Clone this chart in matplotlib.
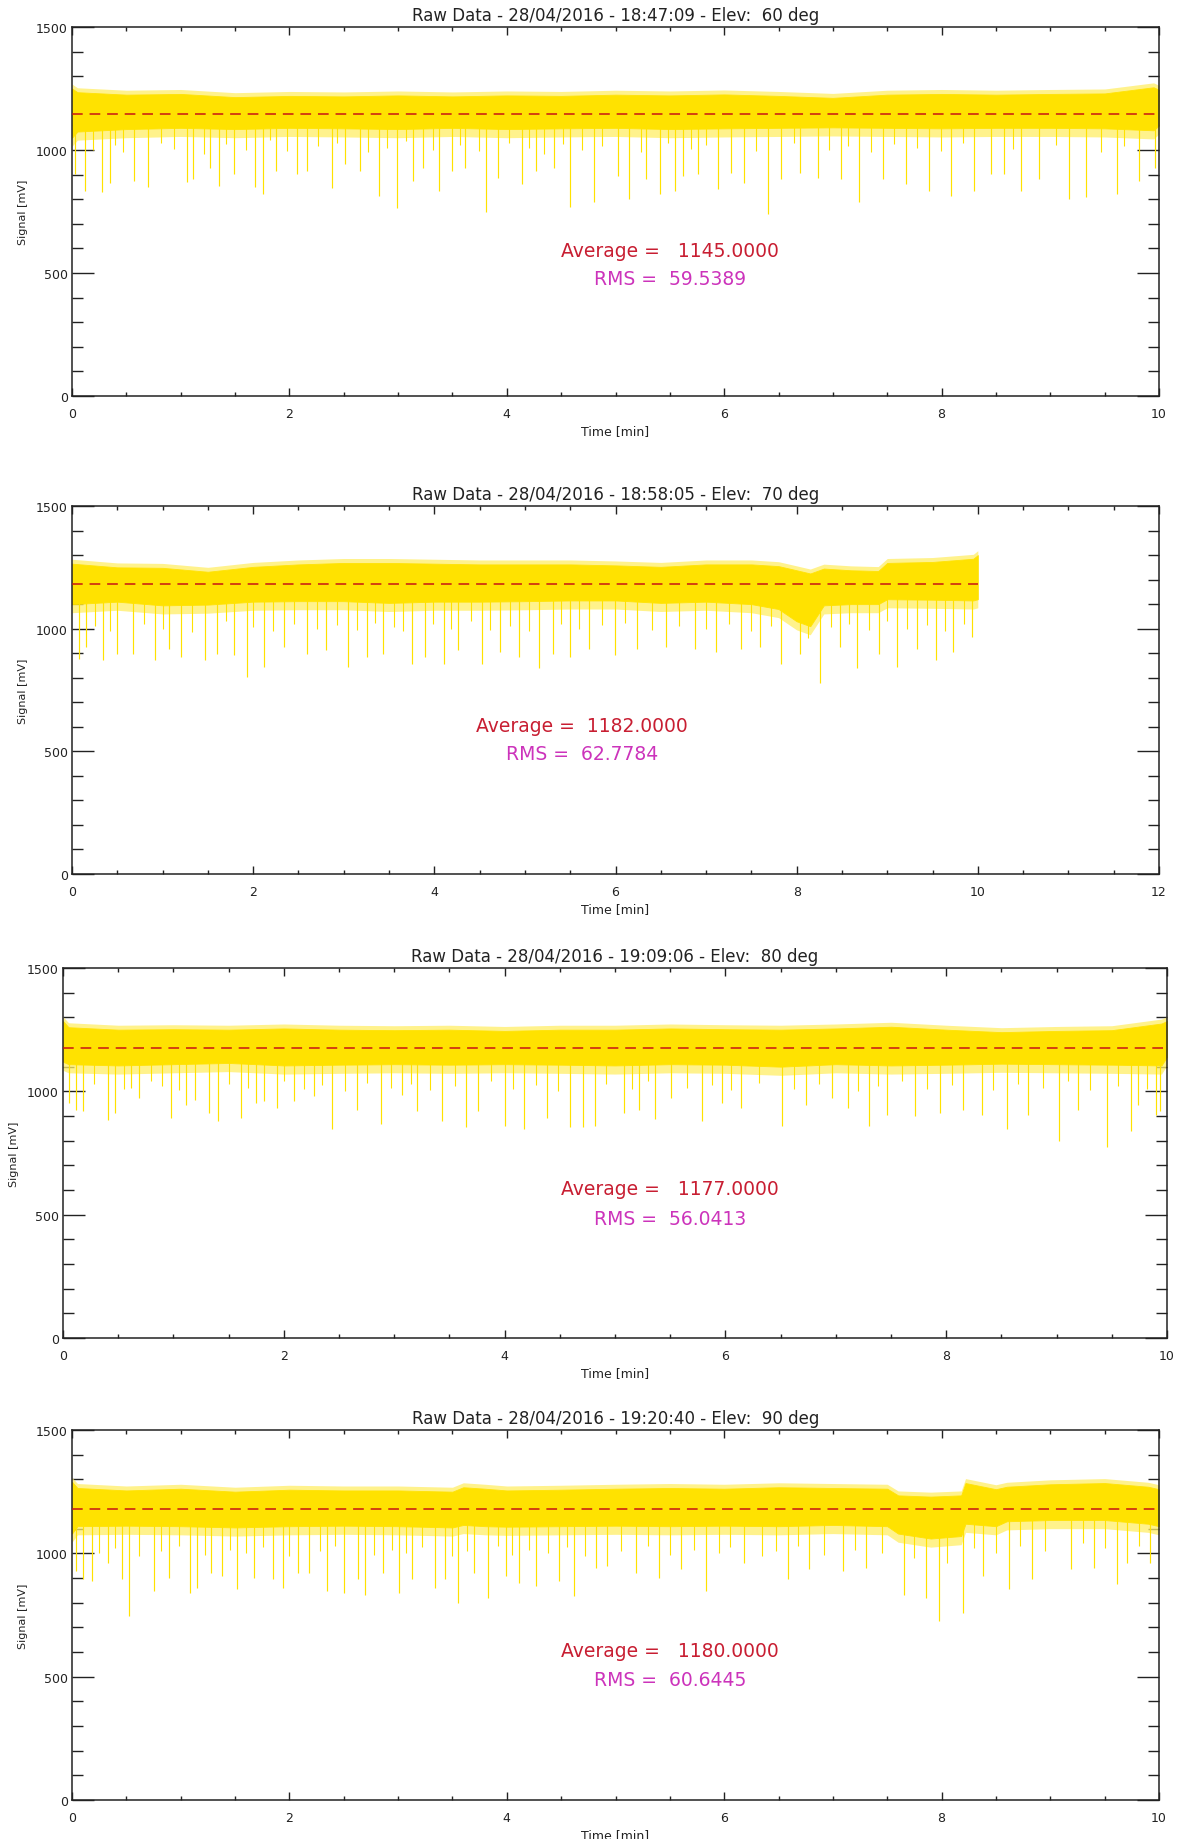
import matplotlib
matplotlib.use("Agg")
import matplotlib.pyplot as plt
from matplotlib.ticker import MultipleLocator
import numpy as np

plt.rcParams['font.family'] = ['DejaVu Sans']

# ---------------- data ----------------
TITLES = [
    "Raw Data - 28/04/2016 - 18:47:09 - Elev:  60 deg",
    "Raw Data - 28/04/2016 - 18:58:05 - Elev:  70 deg",
    "Raw Data - 28/04/2016 - 19:09:06 - Elev:  80 deg",
    "Raw Data - 28/04/2016 - 19:20:40 - Elev:  90 deg",
]
X_MAX = [10, 12, 10, 10]
DATA_END = [10, 10, 10, 10]
AVERAGES = [1145.0, 1182.0, 1177.0, 1180.0]
RMS_VALUES = [59.5389, 62.7784, 56.0413, 60.6445]
AVG_LABELS = ["Average =   1145.0000", "Average =  1182.0000",
              "Average =   1177.0000", "Average =   1180.0000"]
RMS_LABELS = ["RMS =  59.5389", "RMS =  62.7784", "RMS =  56.0413", "RMS =  60.6445"]
TEXT_X = [5.5, 5.63, 5.5, 5.5]
AVG_Y = [592, 607, 605, 605]
RMS_Y = [478, 492, 486, 490]

# envelope of the dense noise band (time [min], upper and lower edge [mV])
P1_ENV_T = [0, 0.05, 0.5, 1.0, 1.5, 2.0, 2.5, 3.0, 3.5, 4.0, 4.5, 5.0, 5.5, 6.0, 6.5, 7.0, 7.5, 8.0, 8.5, 9.0, 9.5, 9.95, 10.0]
P1_TOP = [1250, 1235, 1225, 1228, 1215, 1220, 1218, 1222, 1218, 1222, 1220, 1225, 1222, 1226, 1220, 1212, 1225, 1228, 1225, 1228, 1230, 1255, 1245]
P1_BOT = [1050, 1075, 1085, 1090, 1085, 1090, 1088, 1085, 1090, 1085, 1088, 1090, 1085, 1088, 1090, 1092, 1090, 1088, 1090, 1090, 1088, 1080, 1100]

P2_ENV_T = [0, 0.5, 1.0, 1.5, 2.0, 2.5, 3.0, 3.5, 4.0, 4.5, 5.0, 5.5, 6.0, 6.5, 7.0, 7.5, 7.8, 8.0, 8.15, 8.3, 8.6, 8.9, 9.0, 9.5, 9.95, 10.0]
P2_TOP = [1265, 1250, 1248, 1232, 1252, 1262, 1268, 1268, 1265, 1262, 1262, 1262, 1258, 1252, 1262, 1262, 1255, 1238, 1225, 1245, 1238, 1235, 1268, 1272, 1285, 1300]
P2_BOT = [1100, 1110, 1095, 1098, 1110, 1112, 1112, 1105, 1110, 1110, 1112, 1115, 1115, 1105, 1110, 1100, 1080, 1030, 1010, 1095, 1100, 1100, 1120, 1118, 1115, 1120]

P3_ENV_T = [0, 0.05, 0.5, 1.0, 1.5, 2.0, 2.5, 3.0, 3.5, 4.0, 4.5, 5.0, 5.5, 6.0, 6.5, 7.0, 7.5, 8.0, 8.5, 9.0, 9.5, 9.95, 10.0]
P3_TOP = [1285, 1260, 1250, 1252, 1250, 1255, 1250, 1248, 1250, 1245, 1250, 1250, 1255, 1252, 1250, 1255, 1262, 1250, 1240, 1245, 1248, 1275, 1285]
P3_BOT = [1120, 1110, 1105, 1110, 1115, 1105, 1108, 1110, 1108, 1110, 1108, 1105, 1110, 1108, 1100, 1110, 1105, 1108, 1112, 1110, 1108, 1105, 1140]

P4_ENV_T = [0, 0.05, 0.5, 1.0, 1.5, 2.0, 2.5, 3.0, 3.5, 3.6, 3.8, 4.0, 4.5, 5.0, 5.5, 6.0, 6.5, 7.0, 7.5, 7.6, 7.9, 8.18, 8.22, 8.5, 8.6, 9.0, 9.5, 9.9, 10.0]
P4_TOP = [1290, 1265, 1255, 1262, 1250, 1258, 1255, 1255, 1250, 1268, 1262, 1255, 1258, 1262, 1265, 1262, 1268, 1265, 1262, 1235, 1230, 1235, 1285, 1260, 1270, 1280, 1285, 1270, 1260]
P4_BOT = [1080, 1110, 1112, 1110, 1105, 1110, 1112, 1110, 1105, 1115, 1110, 1108, 1110, 1112, 1110, 1112, 1110, 1115, 1110, 1080, 1060, 1070, 1120, 1110, 1130, 1135, 1135, 1120, 1110]

# deep downward spikes (time [min], minimum [mV])
P1_SPIKE_T = [0.03, 0.12, 0.28, 0.35, 0.57, 0.70, 1.06, 1.11, 1.27, 1.35, 1.49, 1.68, 1.76, 1.88, 2.07, 2.16, 2.39, 2.51, 2.65, 2.82, 2.99, 3.14, 3.23, 3.38, 3.50, 3.62, 3.81, 3.92, 4.14, 4.27, 4.43, 4.58, 4.80,
              5.02, 5.12, 5.28, 5.41, 5.55, 5.62, 5.76, 5.94, 6.06, 6.18, 6.40, 6.52, 6.70, 6.86, 7.07, 7.24, 7.46, 7.67, 7.88, 8.09, 8.30, 8.45, 8.57, 8.73, 8.90, 9.17, 9.33, 9.61, 9.82, 9.96]
P1_SPIKE_V = [901, 834, 830, 867, 874, 850, 870, 881, 928, 854, 901, 850, 820, 915, 901, 915, 847, 942, 915, 814, 764, 874, 928, 834, 915, 928, 746, 888, 861, 915, 928, 767, 787,
              894, 800, 881, 820, 834, 894, 901, 840, 908, 867, 740, 881, 908, 888, 881, 787, 881, 861, 834, 814, 834, 901, 901, 834, 881, 800, 807, 820, 874, 928]

P2_SPIKE_T = [0.08, 0.16, 0.34, 0.50, 0.67, 0.92, 1.07, 1.20, 1.47, 1.60, 1.79, 1.93, 2.12, 2.34, 2.59, 2.80, 3.05, 3.26, 3.43, 3.75, 3.90, 4.11, 4.26, 4.53, 4.72, 4.93, 5.16, 5.31, 5.50, 5.71,
              5.99, 6.24, 6.56, 6.88, 7.11, 7.39, 7.60, 7.83, 8.04, 8.26, 8.48, 8.67, 8.91, 9.11, 9.33, 9.54, 9.73, 9.94]
P2_SPIKE_V = [878, 925, 874, 898, 898, 874, 919, 885, 871, 898, 892, 804, 844, 925, 898, 912, 844, 885, 898, 858, 885, 858, 912, 858, 905, 885, 838, 898, 885, 919,
              892, 919, 925, 919, 905, 919, 925, 858, 898, 777, 925, 838, 898, 844, 919, 871, 905, 966]

P3_SPIKE_T = [0.05, 0.12, 0.18, 0.41, 0.47, 0.62, 0.69, 0.98, 1.11, 1.20, 1.32, 1.40, 1.61, 1.75, 1.82, 1.94, 2.09, 2.27, 2.44, 2.66, 2.88, 3.07, 3.21, 3.43, 3.65, 3.76, 4.00, 4.18, 4.38, 4.59, 4.71, 4.82,
              5.08, 5.22, 5.36, 5.51, 5.79, 5.97, 6.14, 6.51, 6.73, 6.97, 7.11, 7.30, 7.46, 7.72, 7.94, 8.15, 8.32, 8.55, 8.74, 9.02, 9.19, 9.46, 9.67, 9.74, 9.90, 9.94]
P3_SPIKE_V = [953, 926, 920, 882, 913, 1013, 973, 893, 946, 966, 913, 880, 893, 953, 960, 933, 960, 980, 846, 926, 866, 986, 920, 880, 857, 920, 860, 846, 893, 856, 856, 860,
              913, 926, 886, 973, 880, 953, 933, 860, 946, 973, 933, 860, 906, 900, 913, 926, 906, 846, 906, 800, 926, 773, 840, 946, 906, 920]

P4_SPIKE_T = [0.04, 0.10, 0.18, 0.33, 0.46, 0.52, 0.75, 0.89, 1.09, 1.15, 1.28, 1.38, 1.52, 1.67, 1.85, 1.94, 2.08, 2.18, 2.35, 2.50, 2.63, 2.70, 2.86, 3.01, 3.13, 3.34, 3.43, 3.55, 3.70, 3.83, 3.99, 4.11, 4.27, 4.48, 4.62, 4.82,
              4.92, 5.19, 5.40, 5.60, 5.83, 6.18, 6.59, 6.78, 7.09, 7.30, 7.65, 7.86, 7.98, 8.20, 8.38, 8.62, 8.83, 9.19, 9.40, 9.61, 9.71, 9.92]
P4_SPIKE_V = [928, 894, 888, 962, 897, 745, 847, 901, 840, 860, 921, 908, 854, 901, 894, 860, 921, 921, 847, 840, 894, 833, 921, 840, 894, 860, 894, 799, 921, 820, 908, 881, 867, 888, 827, 942,
              948, 921, 901, 935, 847, 962, 894, 935, 928, 942, 833, 820, 725, 759, 908, 854, 894, 935, 942, 874, 962, 962]

# shallower spikes between the deep ones (time [min], minimum [mV])
P1_MID_T = [0.19, 0.40, 0.47, 0.82, 0.94, 1.21, 1.42, 1.60, 1.82, 1.98, 2.26, 2.44, 2.72, 2.90, 3.07, 3.32, 3.57, 3.74, 4.02, 4.20, 4.34, 4.52, 4.69, 4.88, 5.23, 5.48, 5.69, 5.83, 6.29, 6.64, 6.96, 7.14, 7.35, 7.56, 7.77, 7.99, 8.20, 8.66, 9.05, 9.47, 9.68]
P1_MID_V = [1000, 1020, 990, 1030, 1005, 985, 1025, 1000, 1040, 995, 1015, 1030, 990, 1010, 1035, 1000, 1020, 995, 1030, 1010, 985, 1025, 1000, 1015, 990, 1030, 1005, 1020, 995, 1030, 1000, 1015, 990, 1025, 1010, 995, 1030, 1005, 1020, 990, 1015]
P2_MID_T = [0.25, 0.42, 0.80, 1.00, 1.33, 1.70, 2.00, 2.22, 2.45, 2.70, 2.92, 3.15, 3.35, 3.55, 3.65, 3.98, 4.18, 4.40, 4.62, 4.83, 5.05, 5.40, 5.60, 5.85, 6.10, 6.40, 6.70, 7.00, 7.25, 7.50, 7.72, 8.12, 8.38, 8.58, 8.80, 9.00, 9.22, 9.44, 9.64, 9.85]
P2_MID_V = [1010, 990, 1020, 1000, 985, 1030, 1005, 990, 1020, 1000, 1015, 995, 1025, 1005, 990, 1020, 1000, 1030, 995, 1010, 990, 1020, 1000, 1015, 1025, 995, 1010, 1000, 1020, 990, 1010, 960, 1005, 1020, 995, 1030, 1000, 1015, 990, 1020]
P3_MID_T = [0.28, 0.55, 0.80, 0.90, 1.05, 1.50, 1.68, 2.00, 2.18, 2.35, 2.55, 2.75, 2.97, 3.15, 3.32, 3.55, 3.88, 4.08, 4.28, 4.48, 4.92, 5.15, 5.30, 5.65, 5.88, 6.05, 6.30, 6.62, 6.85, 7.20, 7.38, 7.60, 7.83, 8.05, 8.42, 8.65, 8.88, 9.10, 9.30, 9.56, 9.82]
P3_MID_V = [1030, 1010, 1040, 1020, 1005, 1030, 1015, 1040, 1010, 1025, 1000, 1035, 1015, 1030, 1005, 1020, 1040, 1010, 1025, 1000, 1030, 1010, 1040, 1015, 1025, 1005, 1035, 1010, 1030, 1000, 1020, 1040, 1010, 1025, 1005, 1030, 1015, 1040, 1005, 1020, 1010]
P4_MID_T = [0.25, 0.40, 0.62, 0.82, 0.98, 1.22, 1.45, 1.60, 1.76, 2.00, 2.28, 2.42, 2.78, 2.94, 3.07, 3.22, 3.50, 3.63, 3.92, 4.05, 4.20, 4.38, 4.55, 4.72, 5.05, 5.30, 5.50, 5.72, 5.95, 6.05, 6.35, 6.48, 6.68, 6.92, 7.20, 7.45, 7.75, 8.05, 8.30, 8.50, 8.72, 8.95, 9.30, 9.50, 9.82]
P4_MID_V = [1000, 1020, 990, 1010, 1030, 995, 1015, 1000, 1025, 990, 1010, 1030, 995, 1015, 1000, 1025, 990, 1010, 1030, 995, 1015, 1000, 1025, 990, 1010, 1030, 995, 1015, 1000, 1025, 990, 1010, 1030, 995, 1015, 1000, 980, 960, 1020, 1000, 1030, 1010, 1040, 1020, 1030]

ENV_T = [P1_ENV_T, P2_ENV_T, P3_ENV_T, P4_ENV_T]
ENV_TOP = [P1_TOP, P2_TOP, P3_TOP, P4_TOP]
ENV_BOT = [P1_BOT, P2_BOT, P3_BOT, P4_BOT]
SPIKE_T = [P1_SPIKE_T, P2_SPIKE_T, P3_SPIKE_T, P4_SPIKE_T]
SPIKE_V = [P1_SPIKE_V, P2_SPIKE_V, P3_SPIKE_V, P4_SPIKE_V]
MID_T = [P1_MID_T, P2_MID_T, P3_MID_T, P4_MID_T]
MID_V = [P1_MID_V, P2_MID_V, P3_MID_V, P4_MID_V]

# ---------------- layout ----------------
W, H = 1178, 1840
DPI = 100
# axes boxes in pixels: left, right, top, bottom
BOXES = [(72, 1159, 28, 397), (72, 1159, 507, 875), (63, 1167, 969, 1339), (72, 1159, 1431, 1801)]

YELLOW = '#FFE200'
PALE = '#FFEE66'
AVG_RED = '#C81E32'
RMS_MAG = '#CC33BB'
LINE_RED = '#C81414'
INK = '#222222'

fig = plt.figure(figsize=(W / DPI, H / DPI), dpi=DPI)

for i in range(4):
    l, r, t, b = BOXES[i]
    ax = fig.add_axes([l / W, 1 - b / H, (r - l) / W, (b - t) / H])
    ax.set_xlim(0, X_MAX[i])
    ax.set_ylim(0, 1500)

    et = np.array(ENV_T[i])
    top = np.array(ENV_TOP[i], dtype=float)
    bot = np.array(ENV_BOT[i], dtype=float)
    # soft fringes of the noisy band, then the dense core
    ax.fill_between(et, bot - 35, bot, color=PALE, lw=0, alpha=0.75, zorder=2)
    ax.fill_between(et, top, top + 18, color=PALE, lw=0, alpha=0.75, zorder=2)
    ax.fill_between(et, bot, top, color=YELLOW, lw=0.6, zorder=2)
    ax.vlines(MID_T[i], MID_V[i], AVERAGES[i], color=YELLOW, lw=0.8, zorder=2)
    ax.vlines(SPIKE_T[i], SPIKE_V[i], AVERAGES[i], color=YELLOW, lw=0.85, zorder=2)
    ax.plot([0, DATA_END[i]], [AVERAGES[i], AVERAGES[i]], color=LINE_RED, lw=1.1,
            ls=(0, (7, 4.5)), zorder=3)

    ax.text(TEXT_X[i], AVG_Y[i], AVG_LABELS[i], color=AVG_RED, fontsize=13.5,
            ha='center', va='center', zorder=4)
    ax.text(TEXT_X[i], RMS_Y[i], RMS_LABELS[i], color=RMS_MAG, fontsize=13.5,
            ha='center', va='center', zorder=4)

    ax.set_title(TITLES[i], fontsize=12, pad=5, color=INK)
    ax.set_xlabel("Time [min]", fontsize=9, labelpad=3, color=INK)
    ax.set_ylabel("Signal [mV]", fontsize=8, labelpad=6, color=INK)

    ax.xaxis.set_major_locator(MultipleLocator(2))
    ax.xaxis.set_minor_locator(MultipleLocator(0.5))
    ax.yaxis.set_major_locator(MultipleLocator(500))
    ax.yaxis.set_minor_locator(MultipleLocator(100))
    ax.tick_params(which='both', direction='in', top=True, right=True,
                   colors=INK, labelsize=9, width=1.0)
    ax.tick_params(axis='y', which='major', length=16, pad=3)
    ax.tick_params(axis='y', which='minor', length=8)
    ax.tick_params(axis='x', which='major', length=5.5, pad=8)
    ax.tick_params(axis='x', which='minor', length=3)
    for sp in ax.spines.values():
        sp.set_linewidth(1.1)
        sp.set_color(INK)

fig.savefig("out.png", dpi=DPI)
